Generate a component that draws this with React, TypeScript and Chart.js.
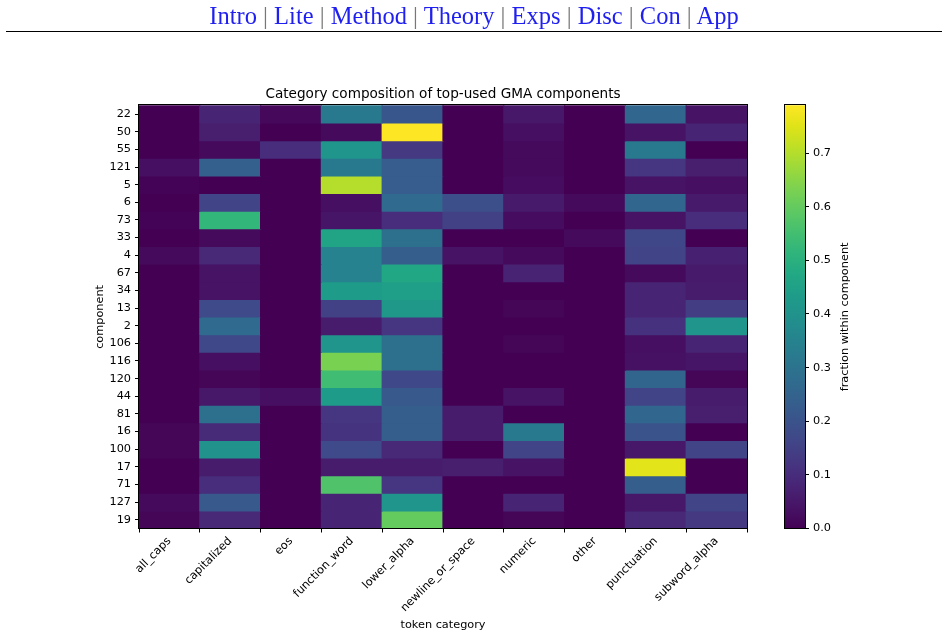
import React, { useEffect, useRef } from "react";
import { Chart, registerables } from "chart.js";
Chart.register(...registerables);

const navItems = ["Intro", "Lite", "Method", "Theory", "Exps", "Disc", "Con", "App"];

const categories = [
  "all_caps", "capitalized", "eos", "function_word", "lower_alpha",
  "newline_or_space", "numeric", "other", "punctuation", "subword_alpha",
];

const components = [
  "22", "50", "55", "121", "5", "6", "73", "33", "4", "67", "34", "13",
  "2", "106", "116", "120", "44", "81", "16", "100", "17", "71", "127", "19",
];

// one row per component, columns follow `categories`
const fractions = [
  [0.0, 0.08, 0.015, 0.32, 0.21, 0.0, 0.05, 0.0, 0.26, 0.04],
  [0.0, 0.065, 0.0, 0.02, 0.789, 0.0, 0.03, 0.0, 0.04, 0.08],
  [0.0, 0.02, 0.1, 0.41, 0.13, 0.0, 0.02, 0.0, 0.32, 0.0],
  [0.03, 0.24, 0.0, 0.32, 0.23, 0.0, 0.02, 0.0, 0.12, 0.065],
  [0.005, 0.0, 0.0, 0.70, 0.23, 0.0, 0.025, 0.0, 0.04, 0.03],
  [0.0, 0.16, 0.0, 0.03, 0.27, 0.19, 0.055, 0.02, 0.26, 0.055],
  [0.005, 0.52, 0.0, 0.045, 0.1, 0.15, 0.025, 0.0, 0.04, 0.1],
  [0.0, 0.02, 0.0, 0.46, 0.29, 0.0, 0.0, 0.02, 0.165, 0.0],
  [0.02, 0.09, 0.0, 0.35, 0.235, 0.04, 0.02, 0.0, 0.16, 0.07],
  [0.0, 0.04, 0.0, 0.35, 0.47, 0.0, 0.075, 0.0, 0.02, 0.055],
  [0.0, 0.04, 0.0, 0.43, 0.44, 0.0, 0.0, 0.0, 0.08, 0.06],
  [0.0, 0.175, 0.0, 0.15, 0.42, 0.0, 0.01, 0.0, 0.08, 0.14],
  [0.0, 0.27, 0.0, 0.06, 0.12, 0.0, 0.0, 0.0, 0.11, 0.41],
  [0.0, 0.17, 0.0, 0.41, 0.29, 0.0, 0.01, 0.0, 0.03, 0.08],
  [0.0, 0.03, 0.0, 0.63, 0.29, 0.0, 0.0, 0.0, 0.035, 0.045],
  [0.0, 0.01, 0.0, 0.545, 0.17, 0.0, 0.0, 0.0, 0.255, 0.01],
  [0.0, 0.05, 0.03, 0.43, 0.22, 0.0, 0.04, 0.0, 0.16, 0.06],
  [0.0, 0.29, 0.0, 0.12, 0.235, 0.06, 0.0, 0.0, 0.26, 0.065],
  [0.01, 0.095, 0.0, 0.115, 0.235, 0.06, 0.32, 0.0, 0.2, 0.0],
  [0.01, 0.4, 0.0, 0.175, 0.09, 0.0, 0.16, 0.0, 0.05, 0.16],
  [0.0, 0.06, 0.0, 0.06, 0.06, 0.065, 0.04, 0.0, 0.755, 0.0],
  [0.0, 0.1, 0.0, 0.57, 0.12, 0.0, 0.0, 0.0, 0.235, 0.0],
  [0.02, 0.22, 0.0, 0.08, 0.41, 0.0, 0.08, 0.0, 0.05, 0.16],
  [0.01, 0.09, 0.0, 0.08, 0.6, 0.0, 0.01, 0.0, 0.09, 0.13],
];

const colorbarTicks = [0.0, 0.1, 0.2, 0.3, 0.4, 0.5, 0.6, 0.7];
const vmin = 0;
const vmax = 0.789;

const VIRIDIS = [
  "#440154", "#471365", "#482475", "#463480", "#414487", "#3b528b", "#355f8d",
  "#2f6c8e", "#2a788e", "#25848e", "#21918c", "#1e9c89", "#22a884", "#2fb47c",
  "#44bf70", "#5ec962", "#7ad151", "#9bd93c", "#bddf26", "#dfe318", "#fde725",
];

function hexToRgb(h: string) {
  return [parseInt(h.slice(1, 3), 16), parseInt(h.slice(3, 5), 16), parseInt(h.slice(5, 7), 16)];
}

function viridis(t: number) {
  const tt = Math.max(0, Math.min(1, t));
  const pos = tt * (VIRIDIS.length - 1);
  const i = Math.min(Math.floor(pos), VIRIDIS.length - 2);
  const f = pos - i;
  const a = hexToRgb(VIRIDIS[i]);
  const b = hexToRgb(VIRIDIS[i + 1]);
  const c = a.map((v, k) => Math.round(v + (b[k] - v) * f));
  return `rgb(${c[0]},${c[1]},${c[2]})`;
}

const FONT = "'DejaVu Sans', sans-serif";
const TICK_SIZE = 11.3;

const framePlugin = {
  id: "frame",
  afterDatasetsDraw(chart: any) {
    const { ctx, chartArea: a } = chart;
    ctx.save();
    ctx.strokeStyle = "#000";
    ctx.lineWidth = 1;
    ctx.strokeRect(Math.round(a.left) - 0.5, Math.round(a.top) - 0.5, Math.round(a.right - a.left) + 1, Math.round(a.bottom - a.top) + 1);
    ctx.restore();
  },
};

function Heatmap() {
  const ref = useRef<HTMLCanvasElement>(null);
  useEffect(() => {
    const chart = new Chart(ref.current!, {
      type: "bar",
      data: {
        labels: categories,
        datasets: components.map((comp, i) => ({
          label: comp,
          data: fractions[i].map(() => [i - 0.5, i + 0.5]) as any,
          backgroundColor: fractions[i].map((v) => viridis((v - vmin) / (vmax - vmin))),
          borderWidth: 0,
          inflateAmount: 0.6,
          barPercentage: 1,
          categoryPercentage: 1,
          grouped: false,
        })),
      },
      options: {
        animation: false,
        responsive: false,
        layout: { padding: { left: 93, right: 201, top: 86.5, bottom: 4 } },
        plugins: {
          legend: { display: false },
          tooltip: { enabled: false },
          title: {
            display: true,
            text: "Category composition of top-used GMA components",
            fullSize: false,
            color: "#000",
            font: { family: FONT, size: 13.6, weight: "normal" },
            padding: { top: 0, bottom: 2.5 },
          },
        },
        scales: {
          x: {
            type: "category",
            offset: true,
            border: { display: false },
            grid: { drawOnChartArea: false, drawTicks: true, tickLength: 4, tickColor: "#000" },
            ticks: {
              color: "#000",
              font: { family: FONT, size: TICK_SIZE },
              maxRotation: 45,
              minRotation: 45,
              autoSkip: false,
              padding: 2,
            },
            title: {
              display: true,
              text: "token category",
              color: "#000",
              font: { family: FONT, size: TICK_SIZE },
              padding: { top: 0, bottom: 1 },
            },
            afterFit(scale: any) {
              scale.height = 104.5;
            },
          },
          y: {
            type: "linear",
            reverse: true,
            min: -0.5,
            max: components.length - 0.5,
            border: { display: false },
            grid: { drawOnChartArea: false, drawTicks: true, tickLength: 4, tickColor: "#000" },
            afterBuildTicks(scale: any) {
              scale.ticks = components.map((_, i) => ({ value: i }));
            },
            ticks: {
              color: "#000",
              font: { family: FONT, size: TICK_SIZE },
              padding: 4,
              autoSkip: false,
              callback: (v: any) => components[v as number] ?? "",
            },
            title: {
              display: true,
              text: "component",
              color: "#000",
              font: { family: FONT, size: TICK_SIZE },
              padding: { top: 0, bottom: 0 },
            },
            afterFit(scale: any) {
              scale.width = 46;
            },
          },
        },
      },
      plugins: [framePlugin],
    });
    return () => chart.destroy();
  }, []);
  return (
    <canvas
      ref={ref}
      width={948}
      height={637}
      style={{ position: "absolute", left: 0, top: 0, width: 948, height: 637 }}
    />
  );
}

function Colorbar() {
  const ref = useRef<HTMLCanvasElement>(null);
  useEffect(() => {
    const labelPlugin = {
      id: "cbLabel",
      afterDraw(chart: any) {
        const { ctx, chartArea: a } = chart;
        ctx.save();
        ctx.fillStyle = "#000";
        ctx.font = `${TICK_SIZE}px ${FONT}`;
        ctx.textAlign = "center";
        ctx.textBaseline = "middle";
        ctx.translate(85, (a.top + a.bottom) / 2);
        ctx.rotate(-Math.PI / 2);
        ctx.fillText("fraction within component", 0, 0);
        ctx.restore();
      },
    };
    const chart = new Chart(ref.current!, {
      type: "bar",
      data: {
        labels: [""],
        datasets: [
          {
            data: [[vmin, vmax]] as any,
            backgroundColor: (c: any) => {
              const area = c.chart.chartArea;
              if (!area) return viridis(0.5);
              const g = c.chart.ctx.createLinearGradient(0, area.bottom, 0, area.top);
              VIRIDIS.forEach((col, k) => g.addColorStop(k / (VIRIDIS.length - 1), col));
              return g;
            },
            borderWidth: 0,
            barPercentage: 1,
            categoryPercentage: 1,
          },
        ],
      },
      options: {
        animation: false,
        responsive: false,
        layout: { padding: { left: 25, right: 0, top: 105.3, bottom: 108.5 } },
        plugins: { legend: { display: false }, tooltip: { enabled: false } },
        scales: {
          x: { display: false },
          y: {
            type: "linear",
            position: "right",
            min: vmin,
            max: vmax,
            border: { display: false },
            grid: { drawOnChartArea: false, drawTicks: true, tickLength: 4, tickColor: "#000" },
            afterBuildTicks(scale: any) {
              scale.ticks = colorbarTicks.map((v) => ({ value: v }));
            },
            ticks: {
              color: "#000",
              font: { family: FONT, size: TICK_SIZE },
              padding: 4,
              callback: (v: any) => Number(v).toFixed(1),
            },
            afterFit(scale: any) {
              scale.width = 143;
            },
          },
        },
      },
      plugins: [framePlugin, labelPlugin],
    });
    return () => chart.destroy();
  }, []);
  return (
    <canvas
      ref={ref}
      width={188}
      height={637}
      style={{ position: "absolute", left: 760, top: 0, width: 188, height: 637 }}
    />
  );
}

export default function App() {
  return (
    <div style={{ position: "absolute", left: 0, top: 0, width: 948, height: 637, background: "#fff", overflow: "hidden" }}>
      <Heatmap />
      <Colorbar />
      <div
        style={{
          position: "absolute",
          left: 0,
          top: 1,
          width: 948,
          textAlign: "center",
          fontFamily: "'Liberation Serif', serif",
          fontSize: 24.5,
          lineHeight: "30px",
          color: "#1f1ff0",
          whiteSpace: "nowrap",
        }}
      >
        {navItems.map((n, i) => (
          <span key={n}>
            {i > 0 && <span style={{ color: "#777" }}> | </span>}
            <span>{n}</span>
          </span>
        ))}
      </div>
      <div style={{ position: "absolute", left: 6, top: 31, width: 936, height: 0, borderTop: "1.5px solid #000" }} />
    </div>
  );
}
